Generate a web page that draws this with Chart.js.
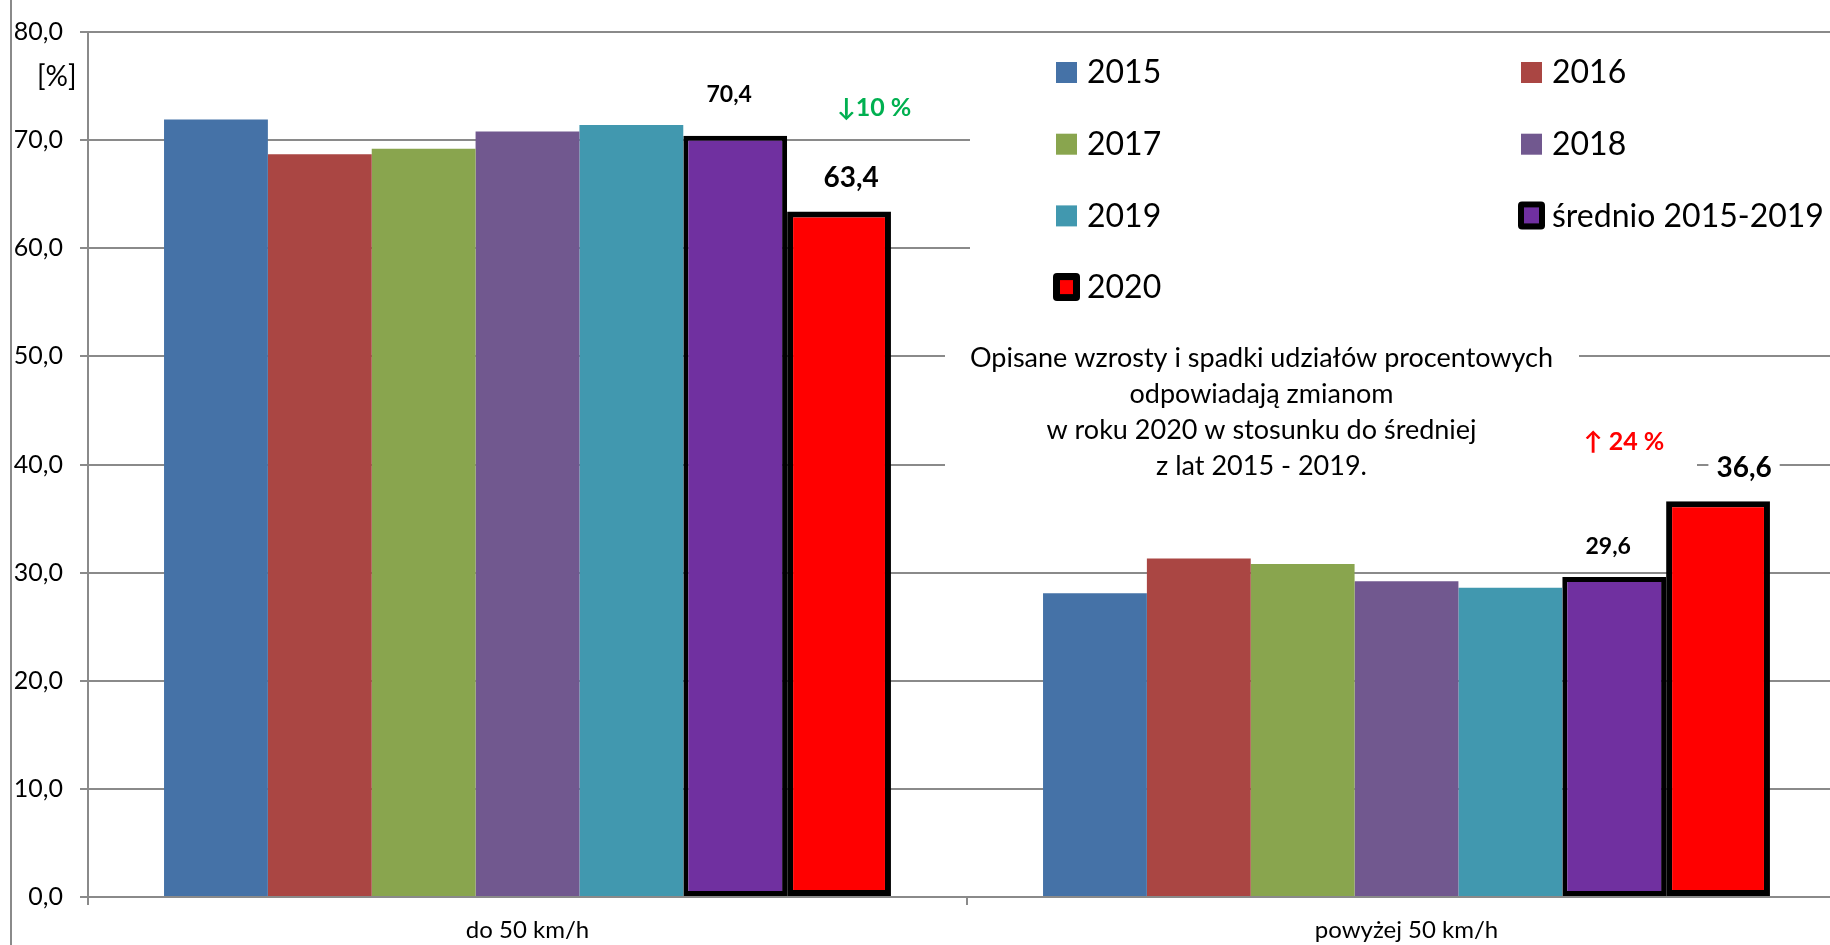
<!DOCTYPE html>
<html lang="pl">
<head>
<meta charset="utf-8">
<title>Udział procentowy</title>
<script src="https://cdn.jsdelivr.net/npm/chart.js@4.4.0/dist/chart.umd.min.js"></script>
<style>
    html, body { margin: 0; padding: 0; background: #fff; overflow: hidden; }
    #wrap { position: relative; width: 1850px; height: 945px; }
</style>
</head>
<body>
<div id="wrap"><canvas id="speedChart"></canvas></div>
<script>
// Dane
const categories = ['do 50 km/h', 'powyżej 50 km/h'];
const seriesNames = ['2015', '2016', '2017', '2018', '2019', 'średnio 2015-2019', '2020'];
const v2015 = [71.9, 28.1];
const v2016 = [68.7, 31.3];
const v2017 = [69.2, 30.8];
const v2018 = [70.8, 29.2];
const v2019 = [71.4, 28.6];
const vAvg = [70.4, 29.6];
const v2020 = [63.4, 36.6];
const changeLabels = ['↓10 %', '↑ 24 %'];
const noteLines = [
    'Opisane wzrosty i spadki udziałów procentowych',
    'odpowiadają zmianom',
    'w roku 2020 w stosunku do średniej',
    'z lat 2015 - 2019.'
];
const yTicks = [0, 10, 20, 30, 40, 50, 60, 70, 80];

const FONT = 'Lato, "Open Sans", sans-serif';
const GRID = '#8a8a8a';

const colors = ['#4572A7', '#AA4643', '#89A54E', '#71588F', '#4198AF', '#7030A0', '#FF0000'];
const values = [v2015, v2016, v2017, v2018, v2019, vAvg, v2020];
const borders = [0, 0, 0, 0, 0, 5, 6];

const datasets = seriesNames.map((name, i) => ({
    label: name,
    data: values[i],
    backgroundColor: colors[i],
    borderColor: '#000',
    borderWidth: borders[i],
    borderSkipped: false
}));

function fmt(v) {
    return v.toFixed(1).replace('.', ',');
}

// Maski, etykiety, legenda i opis
const decorPlugin = {
    id: 'decor',
    afterDraw(chart) {
        const ctx = chart.ctx;
        const ys = chart.scales.y;
        const xs = chart.scales.x;
        ctx.save();

        // lewa ramka
        ctx.strokeStyle = GRID;
        ctx.lineWidth = 2;
        ctx.beginPath();
        ctx.moveTo(11, 0);
        ctx.lineTo(11, 945);
        ctx.stroke();

        // białe tła pod tekstami
        ctx.fillStyle = '#fff';
        ctx.fillRect(970, 35, 900, 285);
        ctx.fillRect(945, 330, 634, 145);
        ctx.fillRect(1579, 425, 118, 50);

        // jednostka
        ctx.fillStyle = '#000';
        ctx.font = '28px ' + FONT;
        ctx.textAlign = 'left';
        ctx.textBaseline = 'middle';
        ctx.fillText('[%]', 37, 77);

        // wartości dla średniej i 2020
        const valueLabels = [
            { ds: 5, idx: 0, dx: -6, dy: -41, size: 23 },
            { ds: 6, idx: 0, dx: 12, dy: -34, size: 28 },
            { ds: 5, idx: 1, dx: -6, dy: -30, size: 23 },
            { ds: 6, idx: 1, dx: 26, dy: -33, size: 28 }
        ];
        ctx.textAlign = 'center';
        valueLabels.forEach(l => {
            const bar = chart.getDatasetMeta(l.ds).data[l.idx];
            const txt = fmt(chart.data.datasets[l.ds].data[l.idx]);
            ctx.font = 'bold ' + l.size + 'px ' + FONT;
            const w = ctx.measureText(txt).width;
            const x = bar.x + l.dx;
            const y = bar.y + l.dy;
            ctx.fillStyle = '#fff';
            ctx.fillRect(x - w / 2 - 8, y - l.size / 2, w + 16, l.size);
            ctx.fillStyle = '#000';
            ctx.fillText(txt, x, y);
        });

        // zmiany procentowe
        const changePos = [
            { dx: 35, dy: -104, color: '#00B050' },
            { dx: -94, dy: -59, color: '#FF0000' }
        ];
        ctx.font = 'bold 25px ' + FONT;
        changeLabels.forEach((txt, i) => {
            const bar = chart.getDatasetMeta(6).data[i];
            ctx.fillStyle = changePos[i].color;
            ctx.fillText(txt, bar.x + changePos[i].dx, bar.y + changePos[i].dy);
        });

        // opis
        ctx.fillStyle = '#000';
        ctx.font = '27px ' + FONT;
        const noteX = xs.getPixelForValue(1) - 145;
        const noteY = ys.getPixelForValue(50) + 2;
        noteLines.forEach((line, i) => {
            ctx.fillText(line, noteX, noteY + i * 36);
        });

        // legenda (2 kolumny)
        const colX = [1056, 1521];
        ctx.font = '32px ' + FONT;
        ctx.textAlign = 'left';
        chart.data.datasets.forEach((ds, i) => {
            const col = i % 2;
            const row = Math.floor(i / 2);
            const bx = colX[col];
            const cy = 72 + row * 71.7;
            if (ds.borderWidth > 0) {
                const inset = ds.borderWidth + 1;
                ctx.fillStyle = '#000';
                ctx.beginPath();
                ctx.roundRect(bx - 3, cy - 14, 27, 28, 4);
                ctx.fill();
                ctx.fillStyle = ds.backgroundColor;
                ctx.fillRect(bx - 3 + inset, cy - 14 + inset, 27 - 2 * inset, 28 - 2 * inset);
            } else {
                ctx.fillStyle = ds.backgroundColor;
                ctx.fillRect(bx, cy - 10, 21, 21);
            }
            ctx.fillStyle = '#000';
            ctx.fillText(ds.label, bx + 31, cy + 1);
        });

        ctx.restore();
    }
};

new Chart(document.getElementById('speedChart'), {
    type: 'bar',
    data: {
        labels: categories,
        datasets: datasets
    },
    options: {
        responsive: true,
        maintainAspectRatio: false,
        animation: false,
        layout: {
            padding: { top: 27, right: 4, bottom: 0, left: 0 }
        },
        datasets: {
            bar: {
                barPercentage: 1,
                categoryPercentage: 0.827
            }
        },
        plugins: {
            legend: { display: false },
            tooltip: { enabled: false }
        },
        scales: {
            x: {
                afterFit(scale) {
                    scale.height = 48;
                },
                grid: {
                    display: true,
                    drawOnChartArea: false,
                    color: GRID,
                    lineWidth: 2,
                    tickLength: 8
                },
                border: { color: GRID, width: 2 },
                ticks: {
                    color: '#000',
                    padding: 11,
                    font: { family: FONT, size: 24 }
                }
            },
            y: {
                min: 0,
                max: 80,
                afterFit(scale) {
                    scale.width = 88;
                },
                afterBuildTicks(scale) {
                    scale.ticks = yTicks.map(v => ({ value: v }));
                },
                grid: {
                    color: GRID,
                    lineWidth: 2,
                    tickLength: 8
                },
                border: { color: GRID, width: 2 },
                ticks: {
                    color: '#000',
                    padding: 17,
                    font: { family: FONT, size: 25 },
                    callback: v => fmt(v)
                }
            }
        }
    },
    plugins: [decorPlugin]
});
</script>
</body>
</html>
